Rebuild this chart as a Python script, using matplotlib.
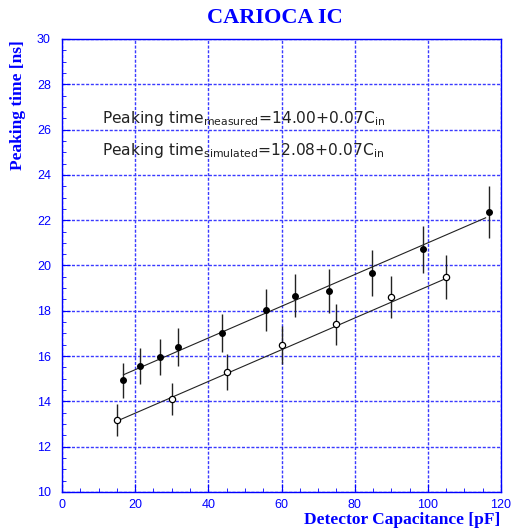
import matplotlib
matplotlib.use("Agg")
import matplotlib.pyplot as plt
import numpy as np
from matplotlib.ticker import MultipleLocator

# Measured data (filled points)
cap_meas = [16.8, 21.4, 26.7, 31.7, 43.8, 55.8, 63.8, 72.9, 84.8, 98.8, 116.8]
pt_meas = [14.93, 15.56, 15.96, 16.40, 17.02, 18.04, 18.67, 18.87, 19.68, 20.71, 22.35]
err_meas = [0.76, 0.79, 0.81, 0.85, 0.86, 0.92, 0.96, 0.96, 1.01, 1.05, 1.14]

# Simulated data (open points)
cap_sim = [15, 30, 45, 60, 75, 90, 105]
pt_sim = [13.18, 14.11, 15.30, 16.49, 17.40, 18.61, 19.49]
err_sim = [0.69, 0.71, 0.79, 0.85, 0.90, 0.94, 0.99]

# Linear fits
fit_meas = (14.00, 0.07)
fit_meas_range = (16.8, 115.8)
fit_sim = (12.08, 0.07)
fit_sim_range = (15.0, 105.0)

BLUE = "#0000ff"

fig = plt.figure(figsize=(5.11, 5.31), dpi=100)
ax = fig.add_axes([62/511, 1-492/531, (501-62)/511, (492-39)/531])

ax.set_xlim(0, 120)
ax.set_ylim(10, 30)

# grid
ax.xaxis.set_major_locator(MultipleLocator(20))
ax.xaxis.set_minor_locator(MultipleLocator(5))
ax.yaxis.set_major_locator(MultipleLocator(2))
ax.yaxis.set_minor_locator(MultipleLocator(0.5))
ax.grid(True, which="major", color="#3a3aff", linestyle=(0, (2.2, 1.2)), linewidth=1.0)
ax.set_axisbelow(True)

for s in ax.spines.values():
    s.set_color(BLUE)
    s.set_linewidth(1.0)

ax.tick_params(axis="both", which="both", direction="in", colors=BLUE,
               top=False, right=False, labelsize=9)
ax.tick_params(which="major", length=6)
ax.tick_params(which="minor", length=3)
for lab in ax.get_xticklabels() + ax.get_yticklabels():
    lab.set_fontfamily("Liberation Sans")
ax.tick_params(axis="x", pad=5)
ax.tick_params(axis="y", pad=8)

# fit lines
for (a, b), (x0, x1) in [(fit_meas, fit_meas_range), (fit_sim, fit_sim_range)]:
    xs = np.array([x0, x1])
    ax.plot(xs, a + b * xs, color="#222222", linewidth=0.8, zorder=3)

# data points
ax.errorbar(cap_meas, pt_meas, yerr=err_meas, fmt="o", color="black",
            ecolor="#222222", markersize=4, elinewidth=1.0, capsize=0, zorder=4)
ax.errorbar(cap_sim, pt_sim, yerr=err_sim, fmt="o", color="black",
            ecolor="#222222", markerfacecolor="white", markeredgecolor="black",
            markersize=4.5, markeredgewidth=0.9, elinewidth=1.0, capsize=0, zorder=4)

# annotations
txt_kw = dict(fontsize=11.2, color="#222222", family="DejaVu Sans",
              transform=ax.transData, va="baseline")
ax.text(11.0, 26.28, r"Peaking time$_{\mathregular{measured}}$=14.00+0.07C$_{\mathregular{in}}$", **txt_kw)
ax.text(11.0, 24.87, r"Peaking time$_{\mathregular{simulated}}$=12.08+0.07C$_{\mathregular{in}}$", **txt_kw)

# title and labels
fig.text(275/511, 1-18/531, "CARIOCA IC", ha="center", va="center",
         fontsize=16, fontweight="bold", family="Liberation Serif", color=BLUE)
fig.text(500/511, 1-520/531, "Detector Capacitance [pF]", ha="right", va="center",
         fontsize=12.5, fontweight="bold", family="Liberation Serif", color=BLUE)
fig.text(18/511, 1-40/531, "Peaking time [ns]", ha="center", va="top",
         rotation=90, fontsize=12.5, fontweight="bold", family="Liberation Serif",
         color=BLUE)

fig.savefig("out.png", dpi=100, facecolor="white")
